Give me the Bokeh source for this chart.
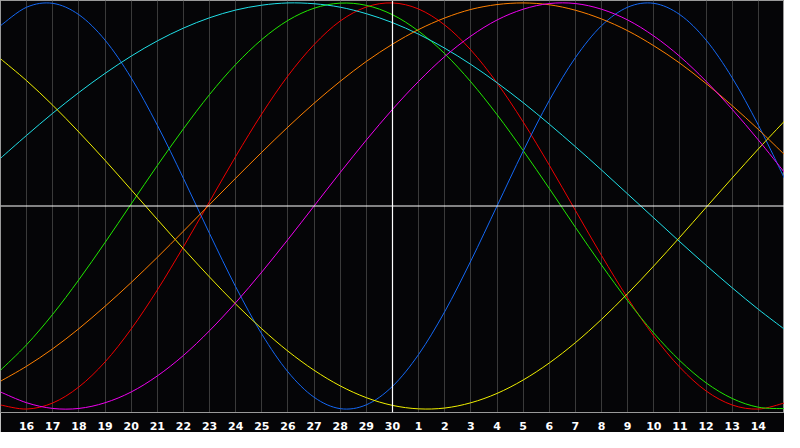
from bokeh.plotting import figure
from bokeh.models import Range1d, FixedTicker, Span, ColumnDataSource
from bokeh.embed import file_html
from bokeh.resources import INLINE

# day labels (index 1..29 along x), today = 30 at index 15
day_labels = ["16", "17", "18", "19", "20", "21", "22", "23", "24", "25", "26", "27", "28", "29", "30",
              "1", "2", "3", "4", "5", "6", "7", "8", "9", "10", "11", "12", "13", "14"]
day_index = list(range(0, 31))

physical = [0.888, 0.979, 0.998, 0.942, 0.817, 0.631, 0.398, 0.136, -0.136, -0.398, -0.631,
            -0.817, -0.942, -0.998, -0.979, -0.888, -0.731, -0.520, -0.270, 0.000, 0.270,
            0.520, 0.731, 0.888, 0.979, 0.998, 0.942, 0.817, 0.631, 0.398, 0.136]
emotional = [-0.980, -1.000, -0.970, -0.891, -0.768, -0.606, -0.414, -0.201, 0.022, 0.244, 0.454,
             0.641, 0.795, 0.911, 0.980, 1.000, 0.970, 0.891, 0.768, 0.606, 0.414,
             0.201, -0.022, -0.244, -0.454, -0.641, -0.795, -0.911, -0.980, -1.000, -0.970]
intellectual = [-0.809, -0.683, -0.533, -0.363, -0.180, 0.010, 0.199, 0.380, 0.549, 0.697, 0.820,
                0.914, 0.974, 0.999, 0.988, 0.942, 0.861, 0.750, 0.611, 0.450, 0.273,
                0.086, -0.105, -0.291, -0.467, -0.626, -0.762, -0.871, -0.948, -0.991, -0.998]
intuitive = [-0.916, -0.969, -0.997, -0.997, -0.969, -0.916, -0.837, -0.736, -0.614, -0.476, -0.325,
             -0.165, 0.000, 0.165, 0.325, 0.476, 0.614, 0.736, 0.837, 0.916, 0.969,
             0.997, 0.997, 0.969, 0.916, 0.837, 0.736, 0.614, 0.476, 0.325, 0.165]
aesthetic = [0.725, 0.617, 0.496, 0.364, 0.225, 0.080, -0.066, -0.210, -0.350, -0.483, -0.605,
             -0.715, -0.809, -0.886, -0.944, -0.982, -0.999, -0.995, -0.969, -0.923, -0.857,
             -0.773, -0.673, -0.558, -0.431, -0.295, -0.153, -0.007, 0.138, 0.281, 0.418]
awareness = [-0.863, -0.789, -0.703, -0.604, -0.494, -0.377, -0.253, -0.124, 0.007, 0.137, 0.265,
             0.389, 0.506, 0.614, 0.712, 0.797, 0.869, 0.926, 0.968, 0.992, 1.000,
             0.991, 0.964, 0.921, 0.863, 0.789, 0.703, 0.603, 0.494, 0.377, 0.253]
spiritual = [0.235, 0.348, 0.457, 0.559, 0.653, 0.738, 0.813, 0.876, 0.927, 0.965, 0.989,
             1.000, 0.996, 0.979, 0.947, 0.903, 0.846, 0.777, 0.697, 0.607, 0.509,
             0.403, 0.292, 0.177, 0.059, -0.059, -0.177, -0.292, -0.403, -0.509, -0.607]

series = [
    (emotional, "#f00000"),
    (intellectual, "#20e800"),
    (physical, "#1468f5"),
    (spiritual, "#20e0e8"),
    (aesthetic, "#f0f000"),
    (awareness, "#ff8000"),
    (intuitive, "#f000f0"),
]

BG = "#050507"


def smooth_segments(xs, ys):
    """Catmull-Rom style bezier segments through the data points (drawing only)."""
    n = len(xs)
    d = {k: [] for k in ("x0", "y0", "x1", "y1", "cx0", "cy0", "cx1", "cy1")}
    for i in range(n - 1):
        ip = max(i - 1, 0)
        inx = min(i + 2, n - 1)
        d["x0"].append(xs[i]); d["y0"].append(ys[i])
        d["x1"].append(xs[i + 1]); d["y1"].append(ys[i + 1])
        d["cx0"].append(xs[i] + (xs[i + 1] - xs[ip]) / 6.0)
        d["cy0"].append(ys[i] + (ys[i + 1] - ys[ip]) / 6.0)
        d["cx1"].append(xs[i + 1] - (xs[inx] - xs[i]) / 6.0)
        d["cy1"].append(ys[i + 1] - (ys[inx] - ys[i]) / 6.0)
    return ColumnDataSource(d)


p = figure(width=784, height=432, output_backend="svg", toolbar_location=None,
           x_range=Range1d(0, 30), y_range=Range1d(-1.017, 1.012),
           min_border_left=0, min_border_right=0, min_border_top=0, min_border_bottom=0)
p.background_fill_color = BG
p.border_fill_color = BG
p.outline_line_color = "#9a9a9a"
p.outline_line_width = 1

p.yaxis.visible = False
p.ygrid.visible = False

p.xaxis.ticker = FixedTicker(ticks=list(range(1, 30)))
p.xaxis.major_label_overrides = {i + 1: lab for i, lab in enumerate(day_labels)}
p.xaxis.major_tick_line_color = None
p.xaxis.minor_tick_line_color = None
p.xaxis.axis_line_color = "#9a9a9a"
p.xaxis.major_label_text_color = "white"
p.xaxis.major_label_text_font = "DejaVu Sans"
p.xaxis.major_label_text_font_style = "bold"
p.xaxis.major_label_text_font_size = "11px"
p.xaxis.major_label_standoff = 3

p.xgrid.ticker = FixedTicker(ticks=list(range(1, 30)))
p.xgrid.grid_line_color = "#3a3a3a"
p.xgrid.grid_line_width = 1

p.add_layout(Span(location=0, dimension="width", line_color="white", line_width=1.2))
p.add_layout(Span(location=15, dimension="height", line_color="white", line_width=1.2))

for vals, col in series:
    src = smooth_segments(day_index, vals)
    p.bezier(x0="x0", y0="y0", x1="x1", y1="y1", cx0="cx0", cy0="cy0", cx1="cx1", cy1="cy1",
             source=src, line_color=col, line_width=1)

open("out.html", "w").write(file_html(p, INLINE))
